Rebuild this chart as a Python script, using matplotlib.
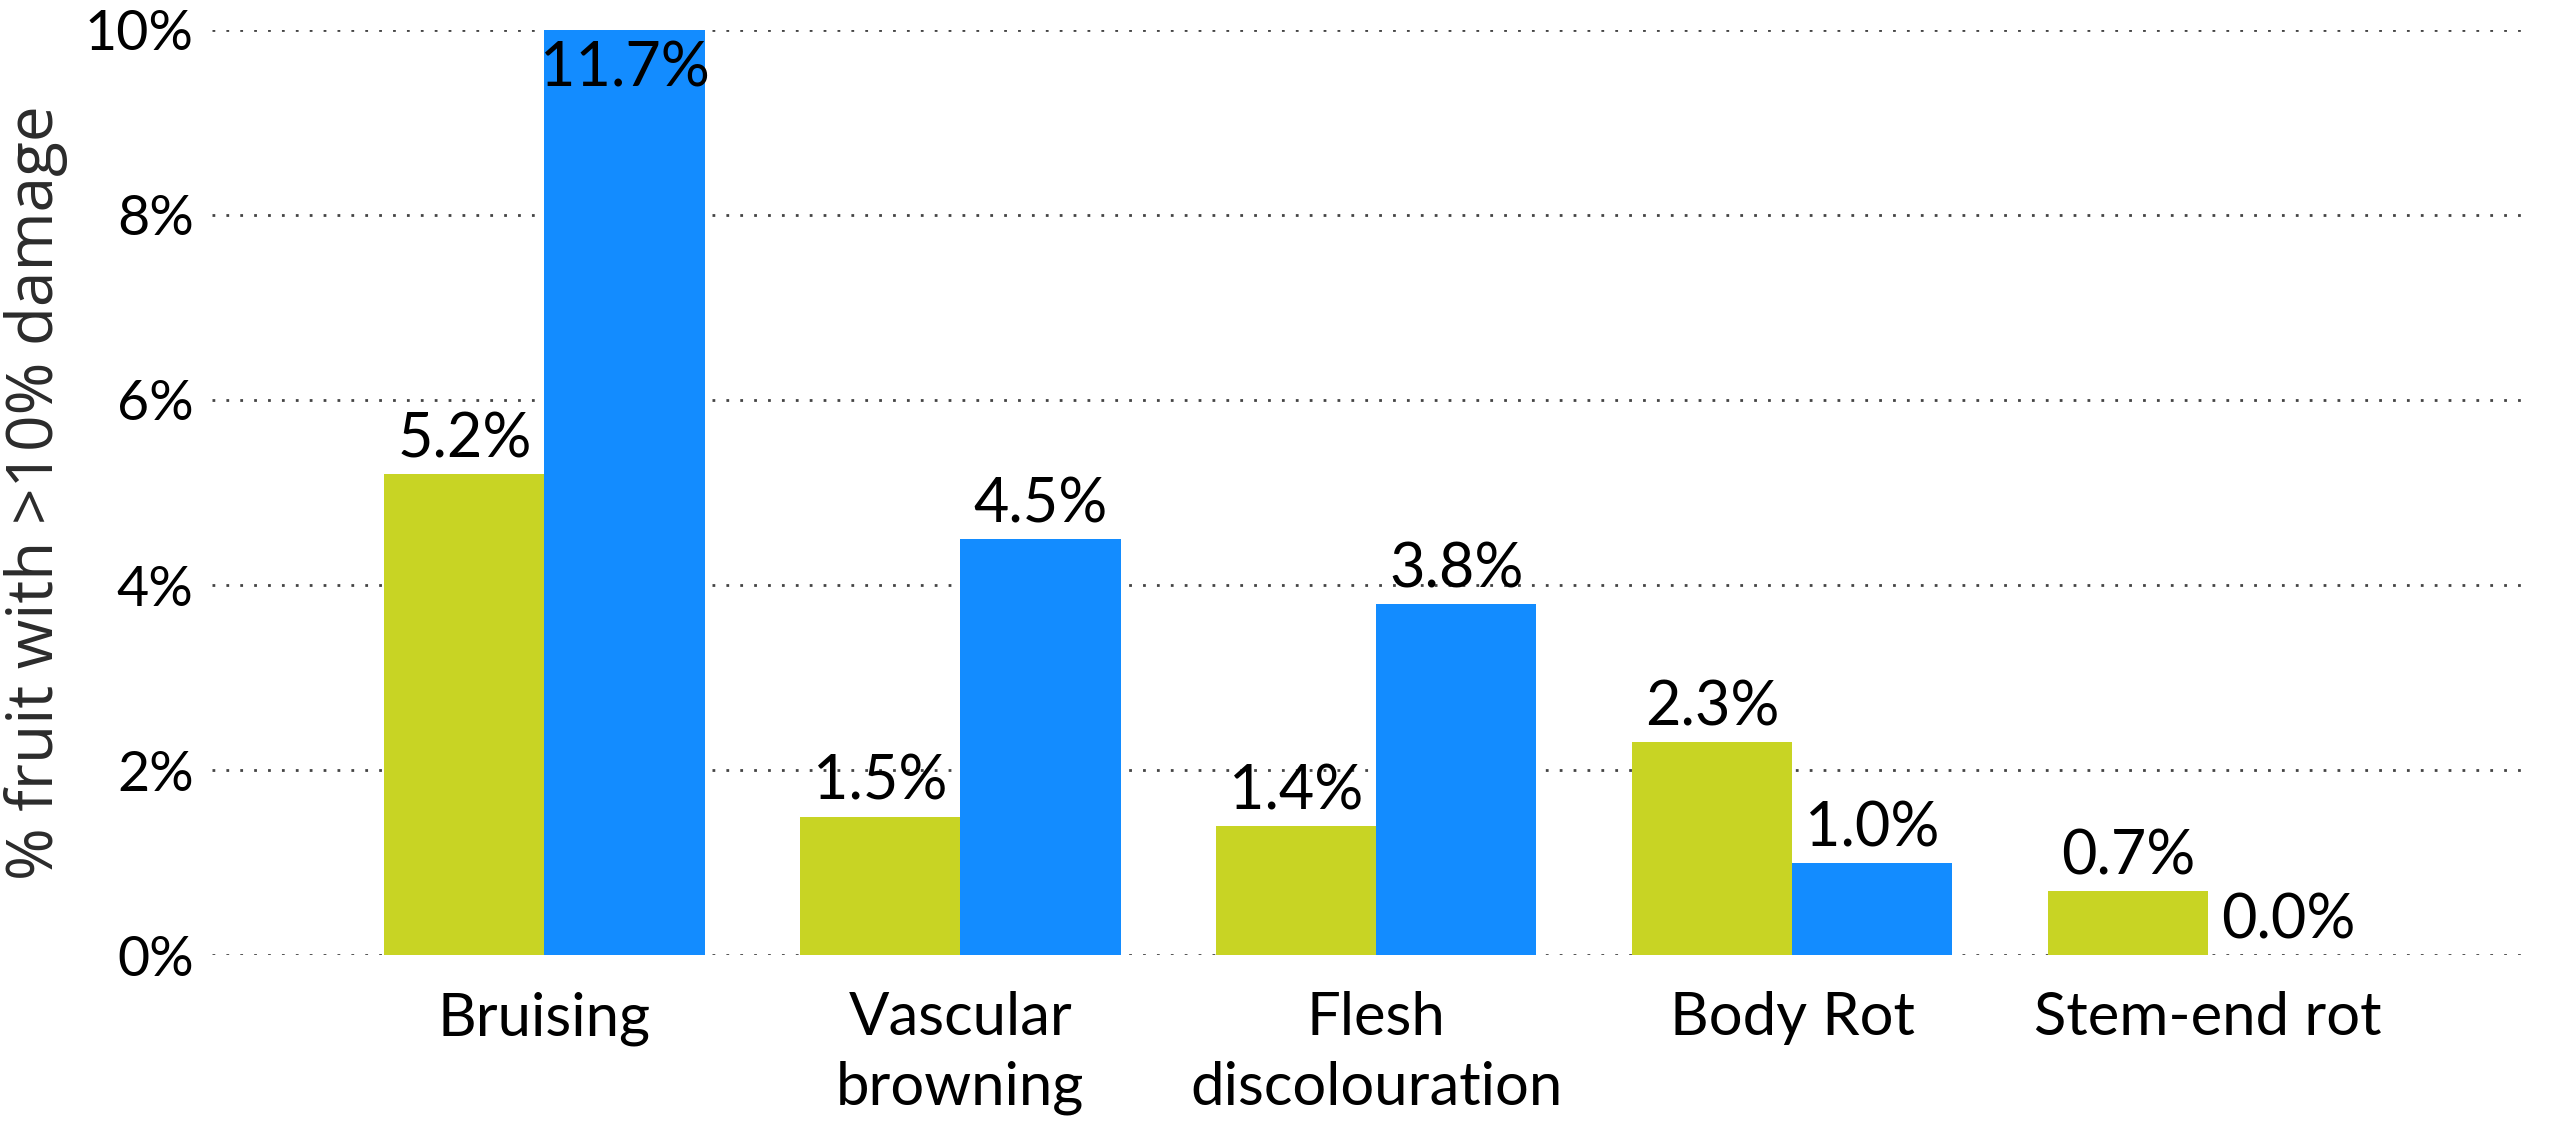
import numpy as np
import matplotlib.pyplot as plt

# data
categories = ["Bruising", "Vascular\nbrowning", "Flesh\ndiscolouration", "Body Rot", "Stem-end rot"]
series_a = [5.2, 1.5, 1.4, 2.3, 0.7]
series_b = [11.7, 4.5, 3.8, 1.0, 0.0]
yticks = [0, 2, 4, 6, 8, 10]

green = "#C8D424"
blue = "#138CFF"

plt.rcParams['font.family'] = ['Lato', 'DejaVu Sans']

fig = plt.figure(figsize=(25.51, 11.36), dpi=100)
ax = fig.add_axes([0.083, 0.159, 0.909, 0.815])

x = np.arange(len(categories))
w = 0.385
bars_a = ax.bar(x - w / 2, series_a, w, color=green, zorder=2)
bars_b = ax.bar(x + w / 2, series_b, w, color=blue, zorder=2)

ax.set_ylim(0, 10)
ax.set_xlim(-0.8, 4.775)
ax.set_yticks(yticks)
ax.set_yticklabels([f"{t}%" for t in yticks], fontsize=40)
ax.set_xticks(x)
ax.set_xticklabels(categories, fontsize=43, linespacing=1.35, va="top")
ax.tick_params(axis='both', length=0)
ax.tick_params(axis='y', pad=13)
ax.tick_params(axis='x', pad=26)

for s in ax.spines.values():
    s.set_visible(False)

ax.yaxis.grid(True, linestyle=(0, (1, 4)), linewidth=2, color="#444444")
ax.set_axisbelow(True)

ax.set_ylabel("% fruit with >10% damage", fontsize=46, color="#2b2b2b",
              family=['Open Sans', 'DejaVu Sans'], labelpad=12)

# value labels above bars, the clipped one goes inside the bar
for bars, vals in [(bars_a, series_a), (bars_b, series_b)]:
    for b, v in zip(bars, vals):
        cx = b.get_x() + b.get_width() / 2
        if v > 10:
            ax.annotate(f"{v:.1f}%", (cx, 10), xytext=(0, -8), textcoords="offset points",
                        ha="center", va="top", fontsize=44)
        else:
            ax.annotate(f"{v:.1f}%", (cx, v), xytext=(0, 4), textcoords="offset points",
                        ha="center", va="bottom", fontsize=44)

fig.savefig("out.png", dpi=100)
